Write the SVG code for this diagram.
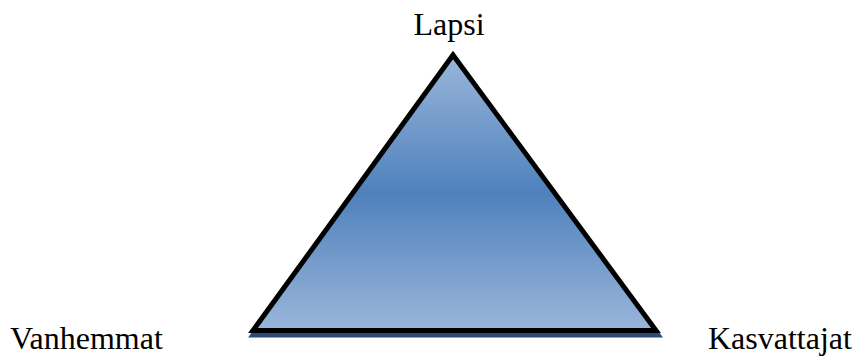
<svg xmlns="http://www.w3.org/2000/svg" width="853" height="356" viewBox="0 0 853 356">
<style>
text{font-family:"Liberation Serif","Times New Roman",serif;font-size:32px;fill:#000}
</style>
<defs>
<linearGradient id="g" x1="0" y1="0" x2="0" y2="1">
<stop offset="0" stop-color="#9ab6da"/>
<stop offset="0.5" stop-color="#4f81bd"/>
<stop offset="1" stop-color="#9ab6da"/>
</linearGradient>
</defs>
<g id="triangle">
<polygon points="453,59 253,335 658,335" fill="#2c4a74" stroke="#2c4a74" stroke-width="5" stroke-linejoin="miter"/>
<polygon points="453,55 253,330.5 656,330.5" fill="url(#g)" stroke="#000" stroke-width="5" stroke-linejoin="miter"/>
</g>
<g id="lapsi"><text x="449" y="35" text-anchor="middle">Lapsi</text></g>
<g id="vanhemmat"><text x="10" y="349">Vanhemmat</text></g>
<g id="kasvattajat"><text x="708" y="349">Kasvattajat</text></g>
<g id="connectors"/>
</svg>
